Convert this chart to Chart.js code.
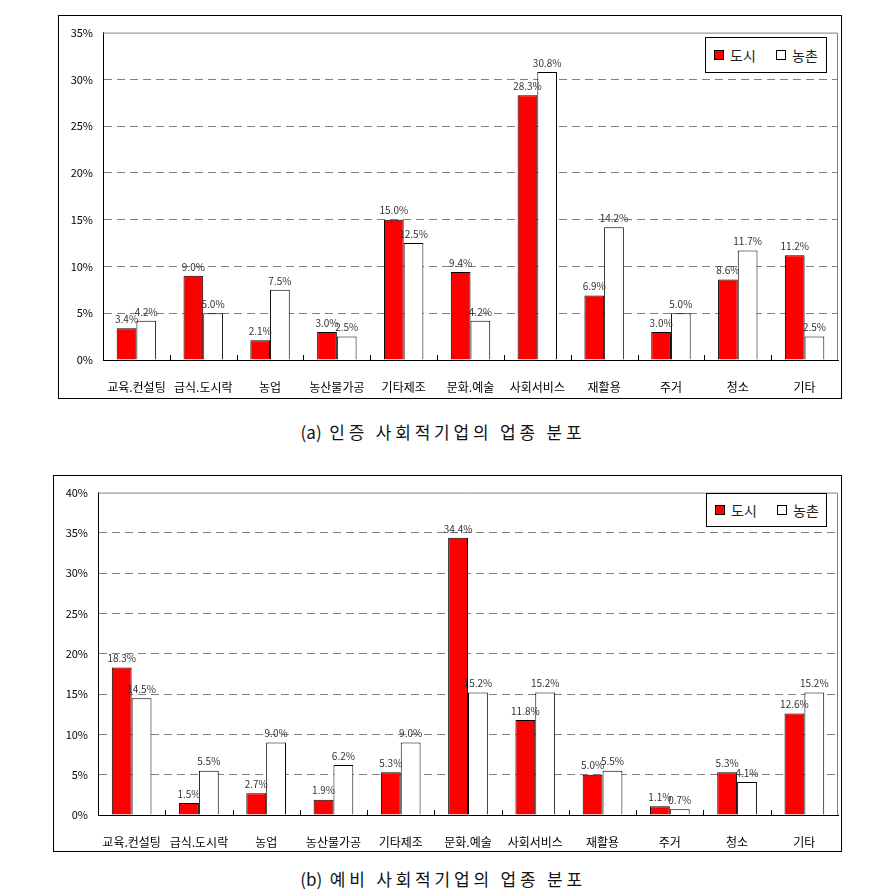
<!DOCTYPE html>
<html>
<head>
<meta charset="utf-8">
<script src="https://cdn.jsdelivr.net/npm/chart.js@4.4.0/dist/chart.umd.min.js"></script>
<style>
  body { margin: 0; background: #fff; font-family: "Noto Sans CJK KR", sans-serif; }
  .box { position: absolute; border: 1px solid #000; }
  .box canvas { display: block; }
  .legend { position: absolute; box-sizing: border-box; border: 1px solid #000; background: #fff; font-size: 14px; color: #222; }
  .legend .sq { position: absolute; width: 10px; height: 10px; box-sizing: border-box; border: 1px solid #000; }
  .legend .tx { position: absolute; line-height: 16px; }
  .cap { position: absolute; left: 2px; width: 882px; text-align: center; font-size: 17px; letter-spacing: 3.8px; color: #111; line-height: 22px; }
  .cap span { letter-spacing: 0; }
</style>
</head>
<body>

<div class="box" style="left:58px;top:15px;width:782px;height:382px;"><canvas id="chartA" width="782" height="382"></canvas></div>
<div class="legend" id="legA" style="left:705px;top:37px;width:122px;height:36px;"></div>
<div class="cap" style="top:421px;"><span>(a)</span> 인증 사회적기업의 업종 분포</div>

<div class="box" style="left:53px;top:475px;width:787px;height:375px;"><canvas id="chartB" width="787" height="375"></canvas></div>
<div class="legend" id="legB" style="left:706px;top:493px;width:121px;height:34px;"></div>
<div class="cap" style="top:868px;"><span>(b)</span> 예비 사회적기업의 업종 분포</div>

<script>
//categories (same for both charts)
const cats = ["교육.컨설팅", "급식.도시락", "농업", "농산물가공", "기타제조", "문화.예술", "사회서비스", "재활용", "주거", "청소", "기타"];
const seriesNames = ["도시", "농촌"];
const seriesColors = ["#ff0000", "#ffffff"];
//(a) 인증 사회적기업
const cityA = [3.4, 9.0, 2.1, 3.0, 15.0, 9.4, 28.3, 6.9, 3.0, 8.6, 11.2];
const ruralA = [4.2, 5.0, 7.5, 2.5, 12.5, 4.2, 30.8, 14.2, 5.0, 11.7, 2.5];
//(b) 예비 사회적기업
const cityB = [18.3, 1.5, 2.7, 1.9, 5.3, 34.4, 11.8, 5.0, 1.1, 5.3, 12.6];
const ruralB = [14.5, 5.5, 9.0, 6.2, 9.0, 15.2, 15.2, 5.5, 0.7, 4.1, 15.2];
//y axis tops
const maxA = 35;
const maxB = 40;

const FONT = '"Noto Sans CJK KR", "Noto Sans", sans-serif';

//value labels above each bar
const valueLabels = {
  id: "valueLabels",
  afterDatasetsDraw(chart) {
    const c = chart.ctx;
    c.save();
    c.font = "10px " + FONT;
    c.fillStyle = "#333";
    c.textAlign = "center";
    c.textBaseline = "middle";
    chart.data.datasets.forEach((ds, di) => {
      chart.getDatasetMeta(di).data.forEach((bar, i) => {
        c.fillText(ds.data[i].toFixed(1) + "%", bar.x, bar.y - 9);
      });
    });
    c.restore();
  }
};

//gray frame on top/right + short inside ticks on x axis
const frame = {
  id: "frame",
  beforeDatasetsDraw(chart) {
    const c = chart.ctx;
    const a = chart.chartArea;
    const xs = chart.scales.x;
    c.save();
    c.strokeStyle = "#808080";
    c.lineWidth = 1;
    c.beginPath();
    c.moveTo(a.left, a.top + 0.5);
    c.lineTo(a.right - 0.5, a.top + 0.5);
    c.lineTo(a.right - 0.5, a.bottom);
    c.stroke();
    c.strokeStyle = "#000";
    c.beginPath();
    for (let i = 1; i < chart.data.labels.length; i++) {
      const x = Math.round((xs.getPixelForValue(i - 1) + xs.getPixelForValue(i)) / 2) + 0.5;
      c.moveTo(x, a.bottom);
      c.lineTo(x, a.bottom - 5);
    }
    c.stroke();
    c.restore();
  }
};

function makeChart(id, city, rural, max, pad, xH) {
  return new Chart(document.getElementById(id), {
    type: "bar",
    data: {
      labels: cats,
      datasets: [
        { label: seriesNames[0], data: city, backgroundColor: seriesColors[0], borderColor: "#000", borderWidth: 1 },
        { label: seriesNames[1], data: rural, backgroundColor: seriesColors[1], borderColor: "#000", borderWidth: 1 }
      ]
    },
    options: {
      responsive: false,
      animation: false,
      categoryPercentage: 0.59,
      barPercentage: 1.0,
      layout: { padding: pad },
      plugins: { legend: { display: false }, tooltip: { enabled: false } },
      scales: {
        x: {
          grid: { display: false },
          border: { color: "#000", width: 1 },
          ticks: { color: "#000", font: { family: FONT, size: 12 }, padding: 12, maxRotation: 0, autoSkip: false },
          afterFit(s) { s.height = xH; }
        },
        y: {
          min: 0,
          max: max,
          ticks: { stepSize: 5, color: "#000", font: { family: FONT, size: 11 }, padding: 10, callback: v => v + "%" },
          grid: {
            drawTicks: false,
            color: ctx => (ctx.tick.value === 0 || ctx.tick.value === max) ? "rgba(0,0,0,0)" : "#808080"
          },
          border: { color: "#000", width: 1, dash: [8, 5] },
          afterFit(s) { s.width = 44; }
        }
      }
    },
    plugins: [frame, valueLabels]
  });
}

//html legend built from series names
function makeLegend(id) {
  const el = document.getElementById(id);
  const h = el.offsetHeight;
  const mid = Math.round(h / 2) - 1;
  const pos = [8, 70];
  seriesNames.forEach((n, i) => {
    const sq = document.createElement("div");
    sq.className = "sq";
    sq.style.background = seriesColors[i];
    sq.style.left = pos[i] + "px";
    sq.style.top = (mid - 5) + "px";
    el.appendChild(sq);
    const tx = document.createElement("div");
    tx.className = "tx";
    tx.textContent = n;
    tx.style.left = (pos[i] + 16) + "px";
    tx.style.top = (mid - 8) + "px";
    el.appendChild(tx);
  });
}

makeChart("chartA", cityA, ruralA, maxA, { left: 0, right: 3, top: 14, bottom: 0 }, 38);
makeChart("chartB", cityB, ruralB, maxB, { left: 0, right: 3, top: 12, bottom: 0 }, 36);
makeLegend("legA");
makeLegend("legB");
</script>
</body>
</html>
